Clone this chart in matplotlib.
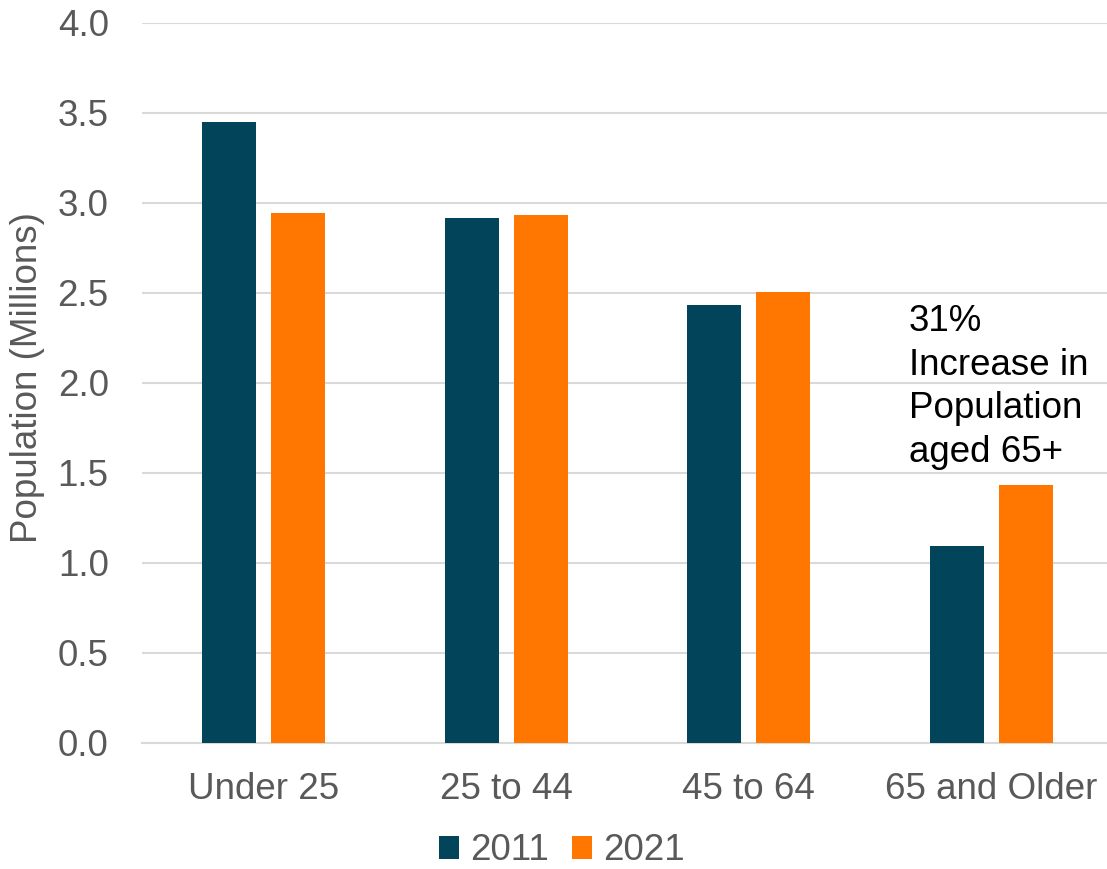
import matplotlib
matplotlib.use("Agg")
import matplotlib.pyplot as plt
import numpy as np

plt.rcParams['font.family'] = ['Liberation Sans', 'DejaVu Sans']

categories = ["Under 25", "25 to 44", "45 to 64", "65 and Older"]
pop_2011 = [3.448, 2.915, 2.432, 1.094]
pop_2021 = [2.942, 2.933, 2.506, 1.433]
series_labels = ["2011", "2021"]
yticks = [0.0, 0.5, 1.0, 1.5, 2.0, 2.5, 3.0, 3.5, 4.0]

C2011 = "#024459"
C2021 = "#FF7600"
TEXT = "#595959"
GRID = "#D9D9D9"

W, H = 1107, 869
fig = plt.figure(figsize=(W / 100, H / 100), dpi=100)
ax = fig.add_axes([142 / W, 126 / H, (1113 - 142) / W, (743 - 23) / H])

x = np.arange(len(categories))
bw = 0.2225
off = 0.142
b1 = ax.bar(x - off, pop_2011, bw, color=C2011, label=series_labels[0], zorder=3)
b2 = ax.bar(x + off, pop_2021, bw, color=C2021, label=series_labels[1], zorder=3)

ax.set_xlim(-0.5, len(categories) - 0.5)
ax.set_ylim(0, 4.0)
ax.set_yticks(yticks)
ax.set_yticklabels([f"{v:.1f}" for v in yticks])
ax.set_xticks(x)
ax.set_xticklabels(categories)

ax.yaxis.grid(True, color=GRID, linewidth=1.5, zorder=0)
ax.set_axisbelow(True)
for s in ["top", "right", "left"]:
    ax.spines[s].set_visible(False)
ax.spines["bottom"].set_color(GRID)
ax.spines["bottom"].set_linewidth(1.5)

ax.tick_params(axis="both", length=0, labelsize=26.5, labelcolor=TEXT)
ax.tick_params(axis="y", pad=24)
ax.tick_params(axis="x", pad=21)

ax.set_ylabel("Population (Millions)", fontsize=26.5, color=TEXT)
ax.yaxis.set_label_coords(28 / W, 1 - 378 / H, transform=fig.transFigure)
ax.yaxis.label.set_verticalalignment("center")

ax.text(909 / W, 1 - 304 / H, "31%\nIncrease in\nPopulation\naged 65+",
        transform=fig.transFigure, fontsize=26.5, color="black",
        ha="left", va="top", linespacing=1.32)

fig.legend(handles=[b1, b2], labels=series_labels, loc="center",
           bbox_to_anchor=(562 / W, 1 - 851 / H), ncol=2, frameon=False,
           fontsize=26.5, labelcolor=TEXT, handlelength=0.55, handleheight=0.55,
           handletextpad=0.3, columnspacing=0.63, borderaxespad=0)

fig.savefig("out.png", dpi=100)
